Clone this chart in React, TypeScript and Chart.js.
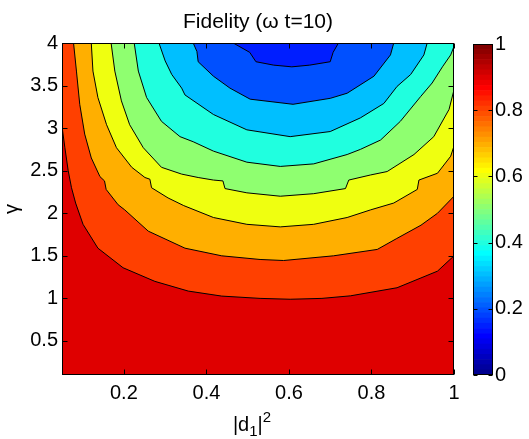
import React, { useEffect, useRef } from "react";
import { Chart, registerables } from "chart.js";

Chart.register(...registerables);

// ---------- text ----------
const chartTitle = "Fidelity (ω t=10)";
// x label "|d1|^2" : pieces with script position (0 = normal, -1 = subscript, 1 = superscript)
const xAxisLabelParts: [string, number][] = [
  ["|d", 0],
  ["1", -1],
  ["|", 0],
  ["2", 1],
];
const yAxisLabel = "γ";

// ---------- axes ----------
const xRange = [0.05, 1];
const yRange = [0.1, 4];
const xTicks = [0.2, 0.4, 0.6, 0.8, 1];
const yTicks = [0.5, 1, 1.5, 2, 2.5, 3, 3.5, 4];
const cbTicks = [0, 0.2, 0.4, 0.6, 0.8, 1];

// ---------- contour lines (x = |d1|^2, y = gamma) ----------
const levels = [0.9, 0.8, 0.7, 0.6, 0.5, 0.4, 0.3, 0.2];

const c90x = [0.05, 0.057, 0.065, 0.073, 0.083, 0.101, 0.137, 0.198, 0.275, 0.356, 0.437, 0.53, 0.603, 0.68, 0.749, 0.862, 0.96, 1.0];
const c90y = [3.02, 2.77, 2.5, 2.3, 2.12, 1.87, 1.59, 1.36, 1.2, 1.086, 1.027, 1.0, 0.99, 1.0, 1.03, 1.125, 1.32, 1.5];

const c80x = [0.078, 0.085, 0.093, 0.105, 0.121, 0.142, 0.153, 0.157, 0.186, 0.202, 0.259, 0.348, 0.437, 0.53, 0.587, 0.708, 0.814, 0.86, 0.92, 0.96, 1.0];
const c80y = [4.0, 3.67, 3.28, 2.93, 2.65, 2.43, 2.38, 2.28, 2.1, 2.04, 1.79, 1.59, 1.5, 1.457, 1.445, 1.5, 1.575, 1.7, 1.86, 2.0, 2.2];

const c70x = [0.121, 0.125, 0.137, 0.158, 0.182, 0.219, 0.251, 0.263, 0.267, 0.307, 0.345, 0.417, 0.498, 0.579, 0.66, 0.741, 0.798, 0.854, 0.911, 0.915, 0.96, 0.992, 1.0];
const c70y = [4.0, 3.67, 3.36, 3.04, 2.77, 2.54, 2.42, 2.4, 2.3, 2.18, 2.09, 1.95, 1.87, 1.84, 1.87, 1.95, 2.04, 2.12, 2.28, 2.39, 2.47, 2.67, 2.79];

const c60x = [0.169, 0.178, 0.194, 0.214, 0.247, 0.291, 0.34, 0.38, 0.417, 0.44, 0.445, 0.498, 0.579, 0.66, 0.737, 0.745, 0.798, 0.838, 0.903, 0.951, 0.988, 1.0];
const c60y = [4.0, 3.67, 3.32, 3.04, 2.77, 2.54, 2.46, 2.42, 2.39, 2.38, 2.29, 2.24, 2.2, 2.23, 2.29, 2.39, 2.45, 2.49, 2.69, 2.9, 3.22, 3.45];

const c50x = [0.225, 0.235, 0.255, 0.291, 0.336, 0.368, 0.417, 0.498, 0.579, 0.66, 0.741, 0.773, 0.822, 0.87, 0.919, 0.947, 0.972, 0.992, 1.0];
const c50y = [4.0, 3.67, 3.36, 3.08, 2.9, 2.84, 2.73, 2.6, 2.55, 2.58, 2.69, 2.75, 2.86, 3.08, 3.37, 3.53, 3.72, 3.86, 3.96];

const c40x = [0.285, 0.3, 0.316, 0.34, 0.348, 0.417, 0.498, 0.603, 0.7, 0.773, 0.83, 0.862, 0.895, 0.927, 0.935];
const c40y = [4.0, 3.79, 3.63, 3.47, 3.39, 3.16, 2.98, 2.9, 2.96, 3.12, 3.29, 3.49, 3.63, 3.86, 4.0];

const c30x = [0.368, 0.377, 0.38, 0.417, 0.457, 0.506, 0.61, 0.7, 0.741, 0.806, 0.846, 0.854];
const c30y = [4.0, 3.9, 3.78, 3.61, 3.47, 3.34, 3.28, 3.35, 3.41, 3.61, 3.86, 4.0];

const c20x = [0.465, 0.505, 0.52, 0.563, 0.607, 0.65, 0.7, 0.707, 0.72];
const c20y = [4.0, 3.89, 3.78, 3.74, 3.72, 3.74, 3.78, 3.89, 4.0];

const contourXs = [c90x, c80x, c70x, c60x, c50x, c40x, c30x, c20x];
const contourYs = [c90y, c80y, c70y, c60y, c50y, c40y, c30y, c20y];

// region colours: [0] = above 0.9 (base), [k+1] = region just below levels[k]
const regionColors = [
  "rgb(223,0,0)",
  "rgb(255,64,0)",
  "rgb(255,175,0)",
  "rgb(239,255,16)",
  "rgb(143,255,112)",
  "rgb(32,255,223)",
  "rgb(0,191,255)",
  "rgb(0,80,255)",
  "rgb(0,30,255)",
];

// ---------- colormap (MATLAB jet, 64 steps) ----------
function jet64(j: number): string {
  const u = (p: number) => {
    if (p < 1 || p > 47) return 0;
    if (p <= 16) return p / 16;
    if (p <= 31) return 1;
    return (48 - p) / 16;
  };
  const r = u(j - 24);
  const g = u(j - 8);
  const b = u(j + 8);
  return `rgb(${Math.round(r * 255)},${Math.round(g * 255)},${Math.round(b * 255)})`;
}
const cbSteps = 64;

const FONT = "'Liberation Sans', Arial, Helvetica, sans-serif";
const FS = 20;
const FS_TITLE = 21;

const framePlugin = (tickSpecs: { axis: "x" | "y"; values: number[] }[], tl: number, isMain: boolean) => ({
  id: "frame",
  beforeDatasetsDraw(chart: any) {
    if (!isMain) return;
    const { ctx, chartArea: a } = chart;
    ctx.save();
    ctx.fillStyle = regionColors[0];
    ctx.fillRect(a.left, a.top, a.right - a.left, a.bottom - a.top);
    ctx.restore();
  },
  afterDraw(chart: any) {
    const { ctx, chartArea: a, scales } = chart;
    ctx.save();
    ctx.strokeStyle = "#000";
    ctx.lineWidth = 1;
    ctx.beginPath();
    const L = Math.round(a.left) + 0.5;
    const R = Math.round(a.right) - 0.5;
    const T = Math.round(a.top) + 0.5;
    const B = Math.round(a.bottom) - 0.5;
    for (const spec of tickSpecs) {
      const sc = spec.axis === "x" ? scales.x : scales.y;
      for (const v of spec.values) {
        const p = Math.round(sc.getPixelForValue(v)) + 0.5;
        if (spec.axis === "x") {
          ctx.moveTo(p, B);
          ctx.lineTo(p, B - tl);
          ctx.moveTo(p, T);
          ctx.lineTo(p, T + tl);
        } else {
          ctx.moveTo(L, p);
          ctx.lineTo(L + tl, p);
          ctx.moveTo(R, p);
          ctx.lineTo(R - tl, p);
        }
      }
    }
    ctx.stroke();
    ctx.strokeRect(L, T, R - L, B - T);

    if (isMain) {
      // x-axis label with sub/superscript
      const mainFont = `${FS}px ${FONT}`;
      const smallFont = `15px ${FONT}`;
      ctx.fillStyle = "#000";
      ctx.textBaseline = "alphabetic";
      ctx.textAlign = "left";
      let total = 0;
      const widths = xAxisLabelParts.map(([t, s]) => {
        ctx.font = s === 0 ? mainFont : smallFont;
        const w = ctx.measureText(t).width;
        total += w;
        return w;
      });
      let x = (a.left + a.right) / 2 - 6 - total / 2;
      const base = 431;
      xAxisLabelParts.forEach(([t, s], i) => {
        ctx.font = s === 0 ? mainFont : smallFont;
        const dy = s === -1 ? 5 : s === 1 ? -9 : 0;
        ctx.fillText(t, x, base + dy);
        x += widths[i];
      });
    }
    ctx.restore();
  },
});

function mainConfig(): any {
  const datasets = levels.map((lv, i) => ({
    label: `F = ${lv}`,
    data: contourXs[i].map((x, k) => ({ x, y: contourYs[i][k] })),
    borderColor: "#000",
    borderWidth: 1,
    pointRadius: 0,
    tension: 0,
    fill: "end",
    backgroundColor: regionColors[i + 1],
    order: levels.length - i,
  }));
  return {
    type: "line",
    data: { datasets },
    plugins: [framePlugin([{ axis: "x", values: xTicks }, { axis: "y", values: yTicks }], 5, true)],
    options: {
      responsive: false,
      animation: false,
      devicePixelRatio: 1,
      layout: { padding: { left: 0, right: 75, top: 0, bottom: 0 } },
      plugins: {
        legend: { display: false },
        tooltip: { enabled: false },
        title: {
          display: true,
          fullSize: false,
          text: chartTitle,
          color: "#000",
          font: { family: FONT, size: FS_TITLE, weight: "normal" },
          padding: { top: 9.4, bottom: 8.4 },
        },
      },
      scales: {
        x: {
          type: "linear",
          min: xRange[0],
          max: xRange[1],
          afterBuildTicks: (s: any) => {
            s.ticks = xTicks.map((value) => ({ value }));
          },
          afterFit: (s: any) => {
            s.height = 64;
          },
          grid: { display: false, drawTicks: false },
          border: { display: false },
          ticks: {
            autoSkip: false,
            maxRotation: 0,
            padding: 6,
            color: "#000",
            font: { family: FONT, size: FS },
            callback: (v: any) => String(v),
          },
          title: { display: false },
        },
        y: {
          type: "linear",
          min: yRange[0],
          max: yRange[1],
          afterBuildTicks: (s: any) => {
            s.ticks = yTicks.map((value) => ({ value }));
          },
          afterFit: (s: any) => {
            s.width = 62;
          },
          grid: { display: false, drawTicks: false },
          border: { display: false },
          ticks: {
            autoSkip: false,
            padding: 4,
            color: "#000",
            font: { family: FONT, size: FS },
            callback: (v: any) => String(v),
          },
          title: {
            display: true,
            text: yAxisLabel,
            color: "#000",
            font: { family: FONT, size: FS },
            padding: { top: 0, bottom: 0 },
          },
        },
      },
    },
  };
}

function colorbarConfig(): any {
  const datasets = [] as any[];
  for (let j = 1; j <= cbSteps; j++) {
    datasets.push({
      label: `c${j}`,
      data: [[(j - 1) / cbSteps, j / cbSteps]],
      backgroundColor: jet64(j),
      borderWidth: 0,
      barPercentage: 1,
      categoryPercentage: 1,
      grouped: false,
    });
  }
  return {
    type: "bar",
    data: { labels: ["colorbar"], datasets },
    plugins: [framePlugin([{ axis: "y", values: cbTicks }], 4, false)],
    options: {
      responsive: false,
      animation: false,
      devicePixelRatio: 1,
      layout: { padding: { left: 473, right: 0, top: 44, bottom: 64 } },
      plugins: { legend: { display: false }, tooltip: { enabled: false }, title: { display: false } },
      scales: {
        x: { type: "category", display: false },
        y: {
          type: "linear",
          position: "right",
          min: 0,
          max: 1,
          afterBuildTicks: (s: any) => {
            s.ticks = cbTicks.map((value) => ({ value }));
          },
          afterFit: (s: any) => {
            s.width = 36;
          },
          grid: { display: false, drawTicks: false },
          border: { display: false },
          ticks: {
            autoSkip: false,
            padding: 2,
            color: "#000",
            font: { family: FONT, size: FS },
            callback: (v: any) => String(v),
          },
        },
      },
    },
  };
}

export default function App() {
  const mainRef = useRef<HTMLCanvasElement>(null);
  const cbRef = useRef<HTMLCanvasElement>(null);
  useEffect(() => {
    const c1 = new Chart(mainRef.current as HTMLCanvasElement, mainConfig());
    const c2 = new Chart(cbRef.current as HTMLCanvasElement, colorbarConfig());
    return () => {
      c1.destroy();
      c2.destroy();
    };
  }, []);
  const cs: React.CSSProperties = { position: "absolute", left: 0, top: 0, width: 529, height: 439 };
  return (
    <div style={{ position: "absolute", left: 0, top: 0, width: 529, height: 439, background: "#fff" }}>
      <canvas ref={mainRef} width={529} height={439} style={cs} />
      <canvas ref={cbRef} width={529} height={439} style={cs} />
    </div>
  );
}
